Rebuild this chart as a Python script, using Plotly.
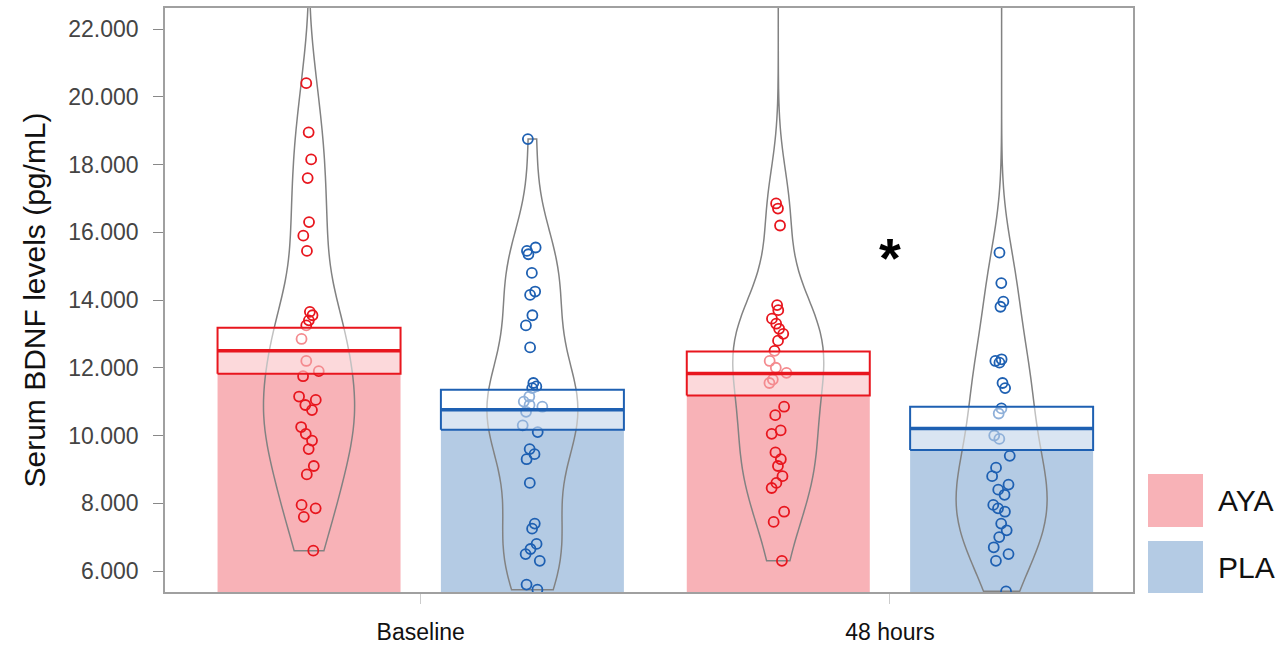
import plotly.graph_objects as go

# ---------------- data ----------------
categories = ["Baseline", "48 hours"]
groups = ["AYA", "PLA"]

# individual serum BDNF values (pg/mL); the last value of some groups lies above the visible range
aya_baseline = [20400, 18950, 18150, 17600, 16300, 15900, 15450, 13650, 13550, 13400, 13250,
                12850, 12200, 11900, 11750, 11150, 11050, 10900, 10750, 10250, 10050, 9850,
                9600, 9100, 8850, 7950, 7850, 7600, 6600, 27000]
pla_baseline = [18750, 15550, 15450, 15350, 14800, 14250, 14150, 13550, 13250, 12600, 11550,
                11450, 11400, 11150, 11000, 10900, 10850, 10700, 10300, 10100, 9600, 9450,
                9300, 8600, 7400, 7250, 6800, 6650, 6500, 6300, 5600, 5450]
aya_48h = [16850, 16700, 16200, 13850, 13700, 13450, 13300, 13150, 13000, 12800, 12500, 12200,
           12000, 11850, 11650, 11550, 10850, 10600, 10150, 10050, 9500, 9300, 9100, 8800,
           8600, 8450, 7750, 7450, 6300, 27000]
pla_48h = [15400, 14500, 13950, 13800, 12250, 12200, 12150, 11550, 11400, 10800, 10650, 10000,
           9900, 9400, 9050, 8800, 8550, 8400, 8250, 7950, 7850, 7750, 7400, 7200, 7000, 6700,
           6500, 6300, 5400, 27000]

aya_mean = [12500, 11830]
aya_se = [680, 650]
pla_mean = [10760, 10210]
pla_se = [590, 635]

y_ticks = [6000, 8000, 10000, 12000, 14000, 16000, 18000, 20000, 22000]

# ---------------- style ----------------
RED = "rgb(232,22,30)"
BLUE = "rgb(30,96,178)"
PINK = "rgb(248,178,183)"
LBLUE = "rgb(180,203,228)"
GREY = "rgb(130,130,130)"
OFF = 0.238
BW = 0.39
VW = 0.194

series = [
    ("AYA", -OFF, [aya_baseline, aya_48h], aya_mean, aya_se, RED, PINK),
    ("PLA", OFF, [pla_baseline, pla_48h], pla_mean, pla_se, BLUE, LBLUE),
]

fig = go.Figure()

# bars (mean)
for name, off, vals, means, ses, col, fill in series:
    fig.add_trace(go.Bar(
        x=[i + off for i in range(len(categories))], y=means, width=BW,
        marker=dict(color=fill, line=dict(width=0)), name=name, showlegend=False,
        hoverinfo="skip"))

# violins + points
for name, off, vals, means, ses, col, fill in series:
    for i, v in enumerate(vals):
        fig.add_trace(go.Violin(
            y=v, x0=i + off, width=VW, spanmode="hard", bandwidth=1350,
            points="all", pointpos=0, jitter=0.25,
            fillcolor="rgba(0,0,0,0)", line=dict(color=GREY, width=1.5),
            marker=dict(symbol="circle-open", size=10, color=col, line=dict(width=1.8, color=col)),
            box_visible=False, meanline_visible=False, showlegend=False, hoverinfo="skip"))

# mean +/- SE boxes and mean lines
for name, off, vals, means, ses, col, fill in series:
    for i, (m, s) in enumerate(zip(means, ses)):
        c = i + off
        fig.add_trace(go.Scatter(
            x=[c - BW / 2, c + BW / 2, c + BW / 2, c - BW / 2, c - BW / 2],
            y=[m - s, m - s, m + s, m + s, m - s], mode="lines", fill="toself",
            fillcolor="rgba(255,255,255,0.5)", line=dict(color=col, width=2),
            showlegend=False, hoverinfo="skip"))
        fig.add_trace(go.Scatter(
            x=[c - BW / 2, c + BW / 2], y=[m, m], mode="lines",
            line=dict(color=col, width=3.5), showlegend=False, hoverinfo="skip"))

# significance marker
fig.add_annotation(x=1, y=15250, text="<b>*</b>", showarrow=False, yanchor="middle",
                   font=dict(size=56, color="black", family="Liberation Sans"))

# custom legend
L, R, T, B = 165, 1133, 8, 592
def px(xp):
    return (xp - L) / (R - L)
def py(yp):
    return (B - yp) / (B - T)

for (y0, y1, fill, lab) in [(474, 527, PINK, "AYA"), (541, 593, LBLUE, "PLA")]:
    fig.add_shape(type="rect", xref="paper", yref="paper", x0=px(1148), x1=px(1203),
                  y0=py(y1), y1=py(y0), fillcolor=fill, line=dict(width=0))
    fig.add_annotation(xref="paper", yref="paper", x=px(1216), y=py((y0 + y1) / 2),
                       text=lab, showarrow=False, xanchor="left", yanchor="middle",
                       font=dict(size=30, color="#111", family="Liberation Sans"))

fig.update_layout(
    width=1284, height=649,
    margin=dict(l=L, r=1284 - R, t=T, b=649 - B, autoexpand=False),
    plot_bgcolor="white", paper_bgcolor="white",
    separators=",.",
    violinmode="overlay", barmode="overlay",
    font=dict(family="Liberation Sans", color="#222"),
    xaxis=dict(range=[-0.545, 1.518], tickvals=[0, 1], ticktext=categories,
               showgrid=False, zeroline=False, showline=True, mirror=True,
               linecolor="#a0a0a0", linewidth=1.5, ticks="outside", ticklen=10,
               tickcolor="#cccccc", tickfont=dict(size=23, color="#111"),
               ticklabelstandoff=9, automargin=False),
    yaxis=dict(range=[5380, 22620], tickvals=y_ticks, tickformat=",d",
               showgrid=False, zeroline=False, showline=True, mirror=True,
               linecolor="#a0a0a0", linewidth=1.5, ticks="outside", ticklen=10,
               tickcolor="#888888", tickfont=dict(size=23, color="#444"),
               ticklabelstandoff=10, automargin=False,
               title=dict(text="Serum BDNF levels (pg/mL)", font=dict(size=30, color="#111"),
                          standoff=14)),
)

fig.write_html("out.html")
